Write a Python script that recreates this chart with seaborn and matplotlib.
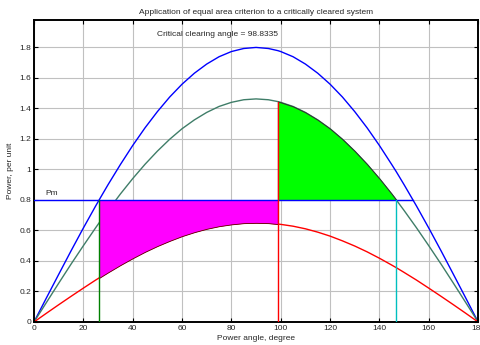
#!/usr/bin/env python3
"""Equal area criterion for a critically cleared system."""

import matplotlib

matplotlib.use("Agg")
import matplotlib.pyplot as plt
import pandas as pd
import seaborn as sns

# power angle samples (degree); key angles inserted where the areas start/stop
ANGLES = [0, 5, 10, 15, 20, 25, 26.39, 30, 35, 40, 45, 50, 55, 60, 65, 70, 75,
          80, 85, 90, 95, 98.83, 100, 105, 110, 115, 120, 125, 130, 135, 140,
          145, 146.84, 150, 155, 160, 165, 170, 175, 180]

# pre-fault power curve (per unit)
P_PRE = [0, 0.157, 0.312, 0.466, 0.616, 0.761, 0.800, 0.900, 1.032, 1.157,
         1.273, 1.379, 1.475, 1.559, 1.631, 1.691, 1.739, 1.773, 1.793, 1.800,
         1.793, 1.779, 1.773, 1.739, 1.691, 1.631, 1.559, 1.475, 1.379, 1.273,
         1.157, 1.032, 0.985, 0.900, 0.761, 0.616, 0.466, 0.312, 0.157, 0]

# during-fault power curve
P_FAULT = [0, 0.057, 0.113, 0.168, 0.222, 0.275, 0.289, 0.325, 0.373, 0.418,
           0.460, 0.498, 0.532, 0.563, 0.589, 0.611, 0.628, 0.640, 0.648, 0.650,
           0.648, 0.642, 0.640, 0.628, 0.611, 0.589, 0.563, 0.532, 0.498, 0.460,
           0.418, 0.373, 0.356, 0.325, 0.275, 0.222, 0.168, 0.113, 0.057, 0]

# post-fault power curve
P_POST = [0, 0.127, 0.254, 0.379, 0.500, 0.618, 0.650, 0.731, 0.839, 0.940,
          1.034, 1.120, 1.198, 1.267, 1.325, 1.374, 1.413, 1.440, 1.457, 1.4625,
          1.457, 1.445, 1.440, 1.413, 1.374, 1.325, 1.267, 1.198, 1.120, 1.034,
          0.940, 0.839, 0.800, 0.731, 0.618, 0.500, 0.379, 0.254, 0.127, 0]

PM = 0.8
DELTA_0 = 26.39
DELTA_C = 98.8335
DELTA_MAX = 146.84
DELTA_PRE_END = 153.61

POST_COLOR = "#3f7d68"


def main() -> None:
    sns.set_theme(style="whitegrid")
    plt.rcParams["font.family"] = ["Liberation Sans", "DejaVu Sans"]

    df = pd.DataFrame({"angle": ANGLES, "pre": P_PRE, "fault": P_FAULT, "post": P_POST})
    long_df = df.melt(id_vars="angle", var_name="curve", value_name="power")

    fig = plt.figure(figsize=(4.81, 3.45), dpi=100)
    ax = fig.add_axes([0.0707, 0.0667, 0.9233, 0.8754])

    sns.lineplot(
        data=long_df,
        x="angle",
        y="power",
        hue="curve",
        hue_order=["pre", "post", "fault"],
        palette=["#0000ff", POST_COLOR, "#ff0000"],
        linewidth=1.0,
        legend=False,
        ax=ax,
    )

    acc = df[(df["angle"] >= DELTA_0 - 0.01) & (df["angle"] <= 98.83 + 0.01)]
    dec = df[(df["angle"] >= 98.83 - 0.01) & (df["angle"] <= DELTA_MAX + 0.01)]
    ax.fill_between(acc["angle"], acc["fault"], PM, facecolor="#ff00ff",
                    edgecolor="#600000", linewidth=0.6, zorder=3)
    ax.fill_between(dec["angle"], PM, dec["post"], facecolor="#00ff00",
                    edgecolor="#303030", linewidth=0.7, zorder=3)

    ax.plot([0, DELTA_PRE_END], [PM, PM], color="#0000ff", linewidth=1.0, zorder=4)
    ax.plot([DELTA_0, DELTA_0], [0, PM], color="#008000", linewidth=1.0, zorder=4)
    ax.plot([DELTA_C, DELTA_C], [0, 1.445], color="#ff0000", linewidth=1.0, zorder=4)
    ax.plot([DELTA_MAX, DELTA_MAX], [0, PM], color="#00bfbf", linewidth=1.0, zorder=4)

    ax.text(4.5, 0.83, "Pm", fontsize=6)
    ax.text(50, 1.875, f"Critical clearing angle = {DELTA_C:g}", fontsize=6)

    ax.set_xlim(0, 180)
    ax.set_ylim(0, 1.98)
    ax.set_xticks(range(0, 181, 20))
    ax.set_yticks([0, 0.2, 0.4, 0.6, 0.8, 1, 1.2, 1.4, 1.6, 1.8])
    ax.set_yticklabels(["0", "0.2", "0.4", "0.6", "0.8", "1", "1.2", "1.4", "1.6", "1.8"])
    ax.set_title("Application of equal area criterion to a critically cleared system",
                 fontsize=6, pad=4)
    ax.set_xlabel("Power angle, degree", fontsize=6, labelpad=2)
    ax.set_ylabel("Power, per unit", fontsize=6, labelpad=4)

    ax.grid(True, color="#c0c0c0", linewidth=0.8)
    ax.tick_params(direction="in", length=3, width=0.8, labelsize=6, pad=2,
                   top=True, right=True, bottom=True, left=True, color="black")
    for spine in ax.spines.values():
        spine.set_color("black")
        spine.set_linewidth(1.4)
    ax.set_facecolor("white")

    fig.savefig("out.png", dpi=100)
    plt.close(fig)


if __name__ == "__main__":
    main()
